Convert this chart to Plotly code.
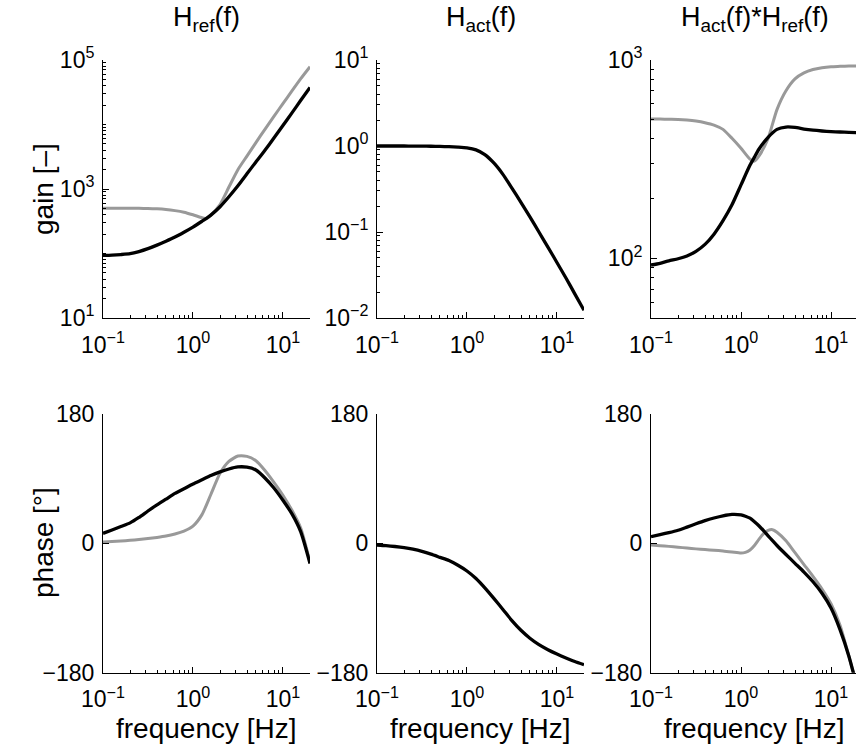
import plotly.graph_objects as go

# ---------------- frequency grids [Hz] ----------------
f_gain_ref = [0.1, 0.126, 0.158, 0.2, 0.251, 0.316, 0.398, 0.501, 0.631, 0.794,
              1.0, 1.26, 1.41, 1.58, 2.0, 2.51, 3.16, 3.98, 5.01, 6.31, 7.94,
              10.0, 12.6, 15.8, 20.0]
f_gain_act = [0.1, 0.126, 0.158, 0.2, 0.251, 0.316, 0.398, 0.501, 0.631, 0.794,
              1.0, 1.26, 1.58, 2.0, 2.51, 3.16, 3.98, 5.01, 6.31, 7.94,
              10.0, 12.6, 15.8, 20.0]
f_gain_tot = f_gain_ref
f_phase_ref = f_gain_act
f_phase_act = f_gain_act
f_phase_tot = [0.1, 0.126, 0.158, 0.2, 0.251, 0.316, 0.398, 0.501, 0.631, 0.794,
               1.0, 1.12, 1.26, 1.41, 1.58, 1.78, 2.0, 2.24, 2.51, 3.16, 3.98,
               5.01, 6.31, 7.94, 10.0, 12.6, 15.8, 17.8]

# ---------------- gain [-] ----------------
gain_ref_grey = [504.7, 504.7, 504.7, 503.5, 501.2, 498.9, 492.0, 480.8, 462.4, 436.5,
                 398.1, 358.9, 347.0, 393.6, 575.4, 1072, 1995, 3236, 5248, 8414,
                 13335, 21135, 33113, 51286, 78524]
gain_ref_black = [93.3, 94.4, 96.4, 99.5, 107.2, 118.9, 134.9, 154.9, 179.9, 213.8,
                  257.0, 316.2, 350.8, 393.6, 530.9, 758.6, 1122, 1718, 2630, 3981,
                  6166, 9661, 15136, 23714, 37584]
gain_act = [1.0, 1.0, 1.0, 1.0, 0.998, 0.995, 0.993, 0.989, 0.982, 0.970,
            0.951, 0.902, 0.794, 0.631, 0.468, 0.324, 0.221, 0.150, 0.100, 0.0668,
            0.0442, 0.0292, 0.0191, 0.0123]
gain_tot_grey = [503.5, 503.5, 502.3, 501.2, 497.7, 492.0, 483.1, 469.9, 446.7, 402.7,
                 358.9, 316.2, 309.0, 327.3, 402.7, 562.3, 699.8, 803.5, 861.0, 895.4,
                 914.1, 924.7, 929.0, 933.3, 933.3]
gain_tot_black = [92.5, 94.4, 97.1, 99.5, 102.8, 108.4, 117.5, 132.4, 154.9, 186.2,
                  234.4, 295.1, 323.6, 354.8, 407.4, 446.7, 459.2, 457.1, 448.7, 442.6,
                  438.5, 435.5, 433.5, 431.5, 430.5]

# ---------------- phase [deg] ----------------
phase_ref_grey = [1.9, 2.5, 3.3, 4.2, 5.3, 6.7, 8.3, 10.2, 13.0, 17.0,
                  24.0, 40.0, 68.0, 97.5, 114.0, 121.5, 121.0, 115.0, 101.5, 85.0,
                  67.0, 46.0, 21.0, -26.0]
phase_ref_black = [13.9, 18.6, 23.4, 28.5, 36.0, 45.0, 53.5, 61.5, 69.5, 76.0,
                   82.6, 88.5, 94.4, 99.5, 103.5, 106.3, 106.0, 102.0, 91.0, 77.0,
                   60.0, 41.0, 16.0, -28.0]
phase_act = [-2.3, -3.2, -4.4, -6.0, -8.2, -11.2, -15.0, -19.5, -24.0, -30.5,
             -38.5, -49.0, -62.0, -77.0, -92.0, -107.5, -121.0, -132.0, -141.0, -148.0,
             -154.0, -159.5, -164.5, -169.0]
phase_tot_grey = [-2.3, -3.2, -4.2, -5.3, -6.6, -7.7, -8.7, -9.6, -10.6, -12.0,
                  -13.5, -12.5, -9.3, -3.0, 5.5, 13.5, 18.0, 19.0, 15.5, 3.5,
                  -13.0, -29.5, -46.0, -63.5, -84.0, -114.0, -157.0, -181.0]
phase_tot_black = [9.3, 12.0, 14.8, 18.2, 22.6, 27.2, 31.6, 35.3, 38.4, 40.3,
                   39.6, 37.8, 35.0, 30.0, 24.5, 17.7, 10.5, 3.7, -3.0, -15.5,
                   -27.8, -40.0, -53.5, -69.5, -90.0, -120.0, -157.0, -181.0]

# ---------------- tick labels ----------------
x_tickvals = [0.1, 1, 10]
x_ticktext = ["10<sup>\u22121</sup>", "10<sup>0</sup>", "10<sup>1</sup>"]
x_minor = [0.2, 0.3, 0.4, 0.5, 0.6, 0.7, 0.8, 0.9, 2, 3, 4, 5, 6, 7, 8, 9, 20]

y1_tickvals = [10, 1000, 100000]
y1_ticktext = ["10<sup>1</sup>", "10<sup>3</sup>", "10<sup>5</sup>"]
y2_tickvals = [0.01, 0.1, 1, 10]
y2_ticktext = ["10<sup>\u22122</sup>", "10<sup>\u22121</sup>", "10<sup>0</sup>", "10<sup>1</sup>"]
y3_tickvals = [100, 1000]
y3_ticktext = ["10<sup>2</sup>", "10<sup>3</sup>"]
phase_tickvals = [-180, 0, 180]
phase_ticktext = ["\u2212180", "0", "180"]

titles = ["H<sub>ref</sub>(f)", "H<sub>act</sub>(f)", "H<sub>act</sub>(f)*H<sub>ref</sub>(f)"]

GREY = "#999999"
BLACK = "#000000"
FONT = "Liberation Sans, Arial, Helvetica, sans-serif"
W, H = 856, 748


def decade_minors(lo, hi):
    vals = []
    for k in range(lo, hi):
        for m in range(1, 10):
            vals.append(m * 10.0 ** k)
    return vals


fig = go.Figure()


def add_line(x, y, color, ax, width):
    fig.add_trace(go.Scatter(
        x=x, y=y, mode="lines",
        line=dict(color=color, width=width, shape="spline", smoothing=0.6),
        xaxis="x" + ax, yaxis="y" + ax, showlegend=False, hoverinfo="skip"))


# top row: gain
add_line(f_gain_ref, gain_ref_grey, GREY, "", 3)
add_line(f_gain_ref, gain_ref_black, BLACK, "", 3.3)
add_line(f_gain_act, gain_act, BLACK, "2", 3.3)
add_line(f_gain_tot, gain_tot_grey, GREY, "3", 3)
add_line(f_gain_tot, gain_tot_black, BLACK, "3", 3.3)
# bottom row: phase
add_line(f_phase_ref, phase_ref_grey, GREY, "4", 3)
add_line(f_phase_ref, phase_ref_black, BLACK, "4", 3.3)
add_line(f_phase_act, phase_act, BLACK, "5", 3.3)
add_line(f_phase_tot, phase_tot_grey, GREY, "6", 3)
add_line(f_phase_tot, phase_tot_black, BLACK, "6", 3.3)

# panel geometry in pixels
cols = [(103, 310), (377, 584), (651, 856)]
rows = [(60, 318), (414, 672.7)]
x_ranges = [[-1, 1.30103], [-1, 1.30103], [-1, 1.2778]]

common = dict(showline=True, linecolor="black", linewidth=1, ticks="inside",
              ticklen=6, tickwidth=1, tickcolor="black", showgrid=False,
              zeroline=False, mirror=False, automargin=False,
              tickfont=dict(family=FONT, size=23, color="black"))

y_specs = [
    dict(type="log", range=[1, 5], tickvals=y1_tickvals, ticktext=y1_ticktext,
         minor=dict(tickvals=decade_minors(1, 5), ticks="inside", ticklen=3,
                    tickcolor="black", showgrid=False)),
    dict(type="log", range=[-2, 1], tickvals=y2_tickvals, ticktext=y2_ticktext,
         minor=dict(tickvals=decade_minors(-2, 1), ticks="inside", ticklen=3,
                    tickcolor="black", showgrid=False)),
    dict(type="log", range=[1.69897, 3], tickvals=y3_tickvals, ticktext=y3_ticktext,
         minor=dict(tickvals=decade_minors(1, 3), ticks="inside", ticklen=3,
                    tickcolor="black", showgrid=False)),
]

layout = dict(width=W, height=H, autosize=False,
              margin=dict(l=0, r=0, t=0, b=0, pad=0, autoexpand=False),
              paper_bgcolor="white", plot_bgcolor="white", showlegend=False,
              font=dict(family=FONT, color="black"))

for r, (top, bot) in enumerate(rows):
    for c, (left, right) in enumerate(cols):
        i = r * 3 + c + 1
        sx = "" if i == 1 else str(i)
        xa = dict(common, type="log", range=x_ranges[c],
                  domain=[left / W, right / W], anchor="y" + sx,
                  tickvals=x_tickvals, ticktext=x_ticktext, ticklabelstandoff=6,
                  minor=dict(tickvals=x_minor, ticks="inside", ticklen=3,
                             tickcolor="black", showgrid=False))
        if r == 0:
            ya = dict(common, **y_specs[c])
        else:
            ya = dict(common, range=[-180, 180], tickvals=phase_tickvals,
                      ticktext=phase_ticktext)
        ya.update(domain=[1 - bot / H, 1 - top / H], anchor="x" + sx,
                  ticklabelstandoff=3)
        layout["xaxis" + sx] = xa
        layout["yaxis" + sx] = ya

annotations = []
for c, (left, right) in enumerate(cols):
    cx = (left + right) / 2
    if c == 2:
        cx = (651 + 858) / 2
    annotations.append(dict(text=titles[c], x=cx / W, y=1 - 19 / H, xref="paper",
                            yref="paper", xanchor="center", yanchor="middle",
                            showarrow=False, font=dict(family=FONT, size=27)))
    annotations.append(dict(text="frequency [Hz]", x=cx / W, y=1 - 728 / H,
                            xref="paper", yref="paper", xanchor="center",
                            yanchor="middle", showarrow=False,
                            font=dict(family=FONT, size=28)))
annotations.append(dict(text="gain [\u2013]", x=43 / W, y=1 - 189 / H, xref="paper",
                        yref="paper", xanchor="center", yanchor="middle",
                        textangle=-90, showarrow=False, font=dict(family=FONT, size=28)))
annotations.append(dict(text="phase [\u00b0]", x=43 / W, y=1 - 543 / H, xref="paper",
                        yref="paper", xanchor="center", yanchor="middle",
                        textangle=-90, showarrow=False, font=dict(family=FONT, size=28)))
layout["annotations"] = annotations

fig.update_layout(**layout)
fig.write_html("out.html")
